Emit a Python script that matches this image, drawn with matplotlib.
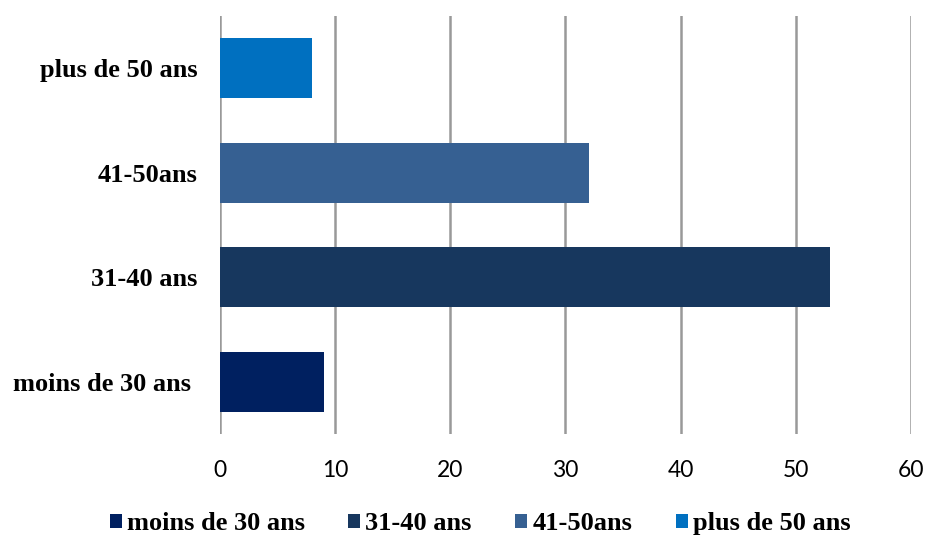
import matplotlib.pyplot as plt

# Age groups and their values
categories = ['moins de 30 ans ', '31-40 ans', '41-50ans', 'plus de 50 ans']
legend_labels = ['moins de 30 ans', '31-40 ans', '41-50ans', 'plus de 50 ans']
values = [9, 53, 32, 8]
colors = ['#002060', '#17375E', '#366092', '#0070C0']
x_ticks = [0, 10, 20, 30, 40, 50, 60]

fig = plt.figure(figsize=(9.27, 5.36), dpi=100)
ax = fig.add_axes([0.2373, 0.1903, 0.7454, 0.7798])

for i, (v, c, lab) in enumerate(zip(values, colors, legend_labels)):
    ax.barh(i, v, height=0.573, color=c, label=lab, zorder=3)

ax.set_xlim(0, 60)
ax.set_ylim(-0.5, 3.5)
ax.set_xticks(x_ticks)
ax.set_xticklabels([str(t) for t in x_ticks], family='Lato', fontsize=16.5)
ax.set_yticks(range(len(categories)))
ax.set_yticklabels(categories, family='Liberation Serif', fontweight='bold', fontsize=19)
ax.tick_params(axis='x', length=0, pad=19)
ax.tick_params(axis='y', length=0, pad=16)

ax.grid(axis='x', color='#999999', linewidth=1.8, zorder=1)
for s in ax.spines.values():
    s.set_visible(False)

fig.legend(loc='center', bbox_to_anchor=(0.518, 0.023), ncol=4, frameon=False,
           prop={'family': 'Liberation Serif', 'weight': 'bold', 'size': 19},
           handlelength=0.45, handleheight=0.45, handletextpad=0.2,
           columnspacing=1.65, borderpad=0)

fig.savefig('out.png', dpi=100)
